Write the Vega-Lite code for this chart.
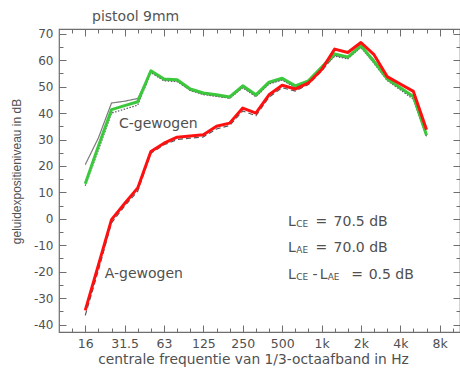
{
  "$schema": "https://vega.github.io/schema/vega-lite/v6.json",
  "width": 401,
  "height": 303,
  "autosize": {"type": "none"},
  "padding": {"left": 59, "top": 29, "right": 0, "bottom": 37},
  "background": "white",
  "title": {"text": "pistool 9mm", "anchor": "start", "dx": 82, "dy": 16, "offset": 9, "baseline": "alphabetic", "font": "DejaVu Sans", "fontSize": 14, "fontWeight": "normal", "color": "#555555"},
  "config": {
    "view": {"stroke": "#6e6e6e", "strokeWidth": 1.2},
    "axis": {"grid": false, "domain": false, "tickColor": "#6e6e6e", "tickWidth": 1, "labelColor": "#505050", "titleColor": "#505050", "labelFont": "DejaVu Sans", "titleFont": "DejaVu Sans", "titleFontWeight": "normal"}
  },
  "datasets": {
    "lijnen": [
      {"s": "C", "f": 12, "db": 13.3}, {"s": "C", "f": 13, "db": 27.5}, {"s": "C", "f": 14, "db": 41.3}, {"s": "C", "f": 15, "db": 42.8}, {"s": "C", "f": 16, "db": 44.3}, {"s": "C", "f": 17, "db": 56.0}, {"s": "C", "f": 18, "db": 52.9}, {"s": "C", "f": 19, "db": 52.6}, {"s": "C", "f": 20, "db": 49.1}, {"s": "C", "f": 21, "db": 47.6}, {"s": "C", "f": 22, "db": 46.9}, {"s": "C", "f": 23, "db": 46.1}, {"s": "C", "f": 24, "db": 50.3}, {"s": "C", "f": 25, "db": 46.9}, {"s": "C", "f": 26, "db": 51.7}, {"s": "C", "f": 27, "db": 53.2}, {"s": "C", "f": 28, "db": 50.3}, {"s": "C", "f": 29, "db": 52.2}, {"s": "C", "f": 30, "db": 57.3}, {"s": "C", "f": 31, "db": 62.4}, {"s": "C", "f": 32, "db": 61.2}, {"s": "C", "f": 33, "db": 65.5}, {"s": "C", "f": 34, "db": 59.5}, {"s": "C", "f": 35, "db": 53.0}, {"s": "C", "f": 36, "db": 49.6}, {"s": "C", "f": 37, "db": 46.3}, {"s": "C", "f": 38, "db": 31.6},
      {"s": "A", "f": 12, "db": -34.6}, {"s": "A", "f": 13, "db": -17.5}, {"s": "A", "f": 14, "db": -0.3}, {"s": "A", "f": 15, "db": 5.8}, {"s": "A", "f": 16, "db": 11.7}, {"s": "A", "f": 17, "db": 25.5}, {"s": "A", "f": 18, "db": 28.6}, {"s": "A", "f": 19, "db": 30.9}, {"s": "A", "f": 20, "db": 31.3}, {"s": "A", "f": 21, "db": 31.8}, {"s": "A", "f": 22, "db": 35.0}, {"s": "A", "f": 23, "db": 36.2}, {"s": "A", "f": 24, "db": 41.9}, {"s": "A", "f": 25, "db": 40.0}, {"s": "A", "f": 26, "db": 46.9}, {"s": "A", "f": 27, "db": 50.5}, {"s": "A", "f": 28, "db": 49.1}, {"s": "A", "f": 29, "db": 51.4}, {"s": "A", "f": 30, "db": 56.4}, {"s": "A", "f": 31, "db": 64.2}, {"s": "A", "f": 32, "db": 62.9}, {"s": "A", "f": 33, "db": 66.7}, {"s": "A", "f": 34, "db": 62.1}, {"s": "A", "f": 35, "db": 53.8}, {"s": "A", "f": 36, "db": 51.0}, {"s": "A", "f": 37, "db": 48.2}, {"s": "A", "f": 38, "db": 33.7},
      {"s": "Cg", "f": 12, "db": 20.5}, {"s": "Cg", "f": 13, "db": 30.6}, {"s": "Cg", "f": 14, "db": 43.8}, {"s": "Cg", "f": 15, "db": 44.5}, {"s": "Cg", "f": 16, "db": 45.5}, {"s": "Cg", "f": 17, "db": 55.5}, {"s": "Cg", "f": 18, "db": 52.5}, {"s": "Cg", "f": 19, "db": 52.2}, {"s": "Cg", "f": 20, "db": 48.6}, {"s": "Cg", "f": 21, "db": 47.2}, {"s": "Cg", "f": 22, "db": 46.5}, {"s": "Cg", "f": 23, "db": 45.7}, {"s": "Cg", "f": 24, "db": 49.8}, {"s": "Cg", "f": 25, "db": 46.4}, {"s": "Cg", "f": 26, "db": 51.2}, {"s": "Cg", "f": 27, "db": 52.7}, {"s": "Cg", "f": 28, "db": 49.8}, {"s": "Cg", "f": 29, "db": 51.8}, {"s": "Cg", "f": 30, "db": 56.8}, {"s": "Cg", "f": 31, "db": 61.8}, {"s": "Cg", "f": 32, "db": 60.8}, {"s": "Cg", "f": 33, "db": 65.0}, {"s": "Cg", "f": 34, "db": 59.2}, {"s": "Cg", "f": 35, "db": 52.6}, {"s": "Cg", "f": 36, "db": 49.2}, {"s": "Cg", "f": 37, "db": 45.8}, {"s": "Cg", "f": 38, "db": 31.2},
      {"s": "Cs", "f": 12, "db": 12.5}, {"s": "Cs", "f": 13, "db": 26.0}, {"s": "Cs", "f": 14, "db": 40.0}, {"s": "Cs", "f": 15, "db": 41.5}, {"s": "Cs", "f": 16, "db": 43.0}, {"s": "Cs", "f": 17, "db": 55.3}, {"s": "Cs", "f": 18, "db": 52.2}, {"s": "Cs", "f": 19, "db": 51.9}, {"s": "Cs", "f": 20, "db": 48.6}, {"s": "Cs", "f": 21, "db": 47.0}, {"s": "Cs", "f": 22, "db": 46.3}, {"s": "Cs", "f": 23, "db": 45.6}, {"s": "Cs", "f": 24, "db": 49.6}, {"s": "Cs", "f": 25, "db": 46.2}, {"s": "Cs", "f": 26, "db": 51.0}, {"s": "Cs", "f": 27, "db": 52.5}, {"s": "Cs", "f": 28, "db": 49.6}, {"s": "Cs", "f": 29, "db": 51.5}, {"s": "Cs", "f": 30, "db": 56.5}, {"s": "Cs", "f": 31, "db": 61.5}, {"s": "Cs", "f": 32, "db": 60.5}, {"s": "Cs", "f": 33, "db": 64.8}, {"s": "Cs", "f": 34, "db": 58.8}, {"s": "Cs", "f": 35, "db": 52.3}, {"s": "Cs", "f": 36, "db": 48.8}, {"s": "Cs", "f": 37, "db": 45.2}, {"s": "Cs", "f": 38, "db": 31.0},
      {"s": "As", "f": 12, "db": -36.5}, {"s": "As", "f": 13, "db": -19.5}, {"s": "As", "f": 14, "db": -1.5}, {"s": "As", "f": 15, "db": 4.8}, {"s": "As", "f": 16, "db": 10.5}, {"s": "As", "f": 17, "db": 24.8}, {"s": "As", "f": 18, "db": 28.0}, {"s": "As", "f": 19, "db": 30.0}, {"s": "As", "f": 20, "db": 30.5}, {"s": "As", "f": 21, "db": 31.0}, {"s": "As", "f": 22, "db": 34.0}, {"s": "As", "f": 23, "db": 35.3}, {"s": "As", "f": 24, "db": 40.8}, {"s": "As", "f": 25, "db": 39.0}, {"s": "As", "f": 26, "db": 46.0}, {"s": "As", "f": 27, "db": 49.6}, {"s": "As", "f": 28, "db": 48.3}, {"s": "As", "f": 29, "db": 50.8}, {"s": "As", "f": 30, "db": 55.8}, {"s": "As", "f": 31, "db": 62.0}, {"s": "As", "f": 32, "db": 61.0}, {"s": "As", "f": 33, "db": 65.3}, {"s": "As", "f": 34, "db": 60.0}, {"s": "As", "f": 35, "db": 52.8}, {"s": "As", "f": 36, "db": 49.2}, {"s": "As", "f": 37, "db": 46.0}, {"s": "As", "f": 38, "db": 32.0}
    ],
    "tekst": [
      {"f": 14.57, "db": 34.5, "t": "C-gewogen"},
      {"f": 13.48, "db": -22.4, "t": "A-gewogen"},
      {"f": 27.44, "db": -2.6, "t": "L"}, {"f": 29.55, "db": -2.6, "t": "="}, {"f": 30.92, "db": -2.6, "t": "70.5 dB"},
      {"f": 27.44, "db": -12.7, "t": "L"}, {"f": 29.55, "db": -12.7, "t": "="}, {"f": 30.92, "db": -12.7, "t": "70.0 dB"},
      {"f": 27.44, "db": -22.75, "t": "L"}, {"f": 29.32, "db": -22.75, "t": "-"}, {"f": 29.86, "db": -22.75, "t": "L"}, {"f": 32.27, "db": -22.75, "t": "="}, {"f": 33.59, "db": -22.75, "t": "0.5 dB"}
    ],
    "sub": [
      {"f": 28.08, "db": -2.6, "t": "CE"},
      {"f": 28.08, "db": -12.7, "t": "AE"},
      {"f": 28.08, "db": -22.75, "t": "CE"},
      {"f": 30.47, "db": -22.75, "t": "AE"}
    ]
  },
  "resolve": {"axis": {"x": "independent", "y": "independent"}},
  "layer": [
    {
      "data": {"name": "lijnen"},
      "transform": [{"filter": "datum.s != 'C' && datum.s != 'A'"}],
      "mark": {"type": "line", "strokeWidth": 1.2},
      "encoding": {
        "x": {"field": "f", "type": "quantitative", "scale": {"domain": [10, 40.55], "nice": false, "zero": false},
          "axis": {"orient": "bottom", "values": [12, 15, 18, 21, 24, 27, 30, 33, 36, 39], "ticks": false, "labelPadding": 5, "labelFontSize": 12.5, "labelFlush": false, "labelOverlap": false,
            "labelExpr": "datum.value % 3 == 0 ? ['16','31.5','63','125','250','500','1k','2k','4k','8k'][(datum.value - 12) / 3] : ''",
            "title": "centrale frequentie van 1/3-octaafband in Hz", "titleFontSize": 13.8, "titleX": 194, "titleY": 31, "titleBaseline": "alphabetic", "titleAlign": "center", "titleAnchor": null}},
        "y": {"field": "db", "type": "quantitative", "scale": {"domain": [-42.8, 71.8], "nice": false, "zero": false},
          "axis": {"orient": "left", "values": [-40, -30, -20, -10, 0, 10, 20, 30, 40, 50, 60, 70], "ticks": false, "labelPadding": 6, "labelFontSize": 12, "labelFlush": false, "labelOverlap": false,
            "labelExpr": "'' + datum.value",
            "title": "geluidexpositieniveau in dB", "titleFont": "Liberation Sans", "titleFontSize": 12, "titleX": -39, "titleY": 142, "titleAngle": -90, "titleBaseline": "alphabetic", "titleAlign": "center", "titleAnchor": null}},
        "detail": {"field": "s"},
        "color": {"field": "s", "type": "nominal", "scale": {"domain": ["Cg", "Cs", "As"], "range": ["#7a7a7a", "#555555", "#555555"]}, "legend": null},
        "strokeDash": {"field": "s", "type": "nominal", "scale": {"domain": ["Cg", "Cs", "As"], "range": [[1, 0], [1.5, 1.5], [5, 3]]}, "legend": null}
      }
    },
    {
      "data": {"name": "lijnen"},
      "transform": [{"filter": "datum.s == 'C'"}],
      "mark": {"type": "line", "color": "#3cc83c", "strokeWidth": 3, "strokeJoin": "round"},
      "encoding": {
        "x": {"field": "f", "type": "quantitative", "scale": {"domain": [10, 40.55], "nice": false, "zero": false}, "axis": null},
        "y": {"field": "db", "type": "quantitative", "scale": {"domain": [-42.8, 71.8], "nice": false, "zero": false}, "axis": null}
      }
    },
    {
      "data": {"name": "lijnen"},
      "transform": [{"filter": "datum.s == 'A'"}],
      "mark": {"type": "line", "color": "#ff1010", "strokeWidth": 3, "strokeJoin": "round"},
      "encoding": {
        "x": {"field": "f", "type": "quantitative", "scale": {"domain": [10, 40.55], "nice": false, "zero": false}, "axis": null},
        "y": {"field": "db", "type": "quantitative", "scale": {"domain": [-42.8, 71.8], "nice": false, "zero": false}, "axis": null}
      }
    },
    {
      "data": {"name": "tekst"},
      "mark": {"type": "text", "align": "left", "baseline": "alphabetic", "font": "DejaVu Sans", "fontSize": 14, "color": "#505050"},
      "encoding": {
        "x": {"field": "f", "type": "quantitative", "scale": {"domain": [10, 40.55], "nice": false, "zero": false}, "axis": null},
        "y": {"field": "db", "type": "quantitative", "scale": {"domain": [-42.8, 71.8], "nice": false, "zero": false}, "axis": null},
        "text": {"field": "t"}
      }
    },
    {
      "data": {"name": "sub"},
      "mark": {"type": "text", "align": "left", "baseline": "alphabetic", "font": "DejaVu Sans", "fontSize": 9, "dy": 1, "color": "#505050"},
      "encoding": {
        "x": {"field": "f", "type": "quantitative", "scale": {"domain": [10, 40.55], "nice": false, "zero": false}, "axis": null},
        "y": {"field": "db", "type": "quantitative", "scale": {"domain": [-42.8, 71.8], "nice": false, "zero": false}, "axis": null},
        "text": {"field": "t"}
      }
    },
    {
      "data": {"name": "lijnen"},
      "mark": {"type": "point", "opacity": 0},
      "encoding": {
        "x": {"field": "f", "type": "quantitative", "scale": {"domain": [10, 40.55], "nice": false, "zero": false},
          "axis": {"orient": "bottom", "values": [12, 15, 18, 21, 24, 27, 30, 33, 36, 39], "labels": false, "offset": -7, "tickSize": 7, "title": null}},
        "y": {"field": "db", "type": "quantitative", "scale": {"domain": [-42.8, 71.8], "nice": false, "zero": false},
          "axis": {"orient": "left", "values": [-40, -30, -20, -10, 0, 10, 20, 30, 40, 50, 60, 70], "labels": false, "offset": -7, "tickSize": 7, "title": null}}
      }
    },
    {
      "data": {"name": "lijnen"},
      "mark": {"type": "point", "opacity": 0},
      "encoding": {
        "x": {"field": "f", "type": "quantitative", "scale": {"domain": [10, 40.55], "nice": false, "zero": false},
          "axis": {"orient": "bottom", "values": [11, 12, 13, 14, 15, 16, 17, 18, 19, 20, 21, 22, 23, 24, 25, 26, 27, 28, 29, 30, 31, 32, 33, 34, 35, 36, 37, 38, 39, 40], "labels": false, "offset": -4, "tickSize": 4, "title": null}},
        "y": {"field": "db", "type": "quantitative", "scale": {"domain": [-42.8, 71.8], "nice": false, "zero": false},
          "axis": {"orient": "left", "values": [-40, -35, -30, -25, -20, -15, -10, -5, 0, 5, 10, 15, 20, 25, 30, 35, 40, 45, 50, 55, 60, 65, 70], "labels": false, "offset": -4, "tickSize": 4, "title": null}}
      }
    },
    {
      "data": {"name": "lijnen"},
      "mark": {"type": "point", "opacity": 0},
      "encoding": {
        "x": {"field": "f", "type": "quantitative", "scale": {"domain": [10, 40.55], "nice": false, "zero": false},
          "axis": {"orient": "top", "values": [12, 15, 18, 21, 24, 27, 30, 33, 36, 39], "labels": false, "offset": -7, "tickSize": 7, "title": null}},
        "y": {"field": "db", "type": "quantitative", "scale": {"domain": [-42.8, 71.8], "nice": false, "zero": false},
          "axis": {"orient": "right", "values": [-40, -30, -20, -10, 0, 10, 20, 30, 40, 50, 60, 70], "labels": false, "offset": -7, "tickSize": 7, "title": null}}
      }
    },
    {
      "data": {"name": "lijnen"},
      "mark": {"type": "point", "opacity": 0},
      "encoding": {
        "x": {"field": "f", "type": "quantitative", "scale": {"domain": [10, 40.55], "nice": false, "zero": false},
          "axis": {"orient": "top", "values": [11, 12, 13, 14, 15, 16, 17, 18, 19, 20, 21, 22, 23, 24, 25, 26, 27, 28, 29, 30, 31, 32, 33, 34, 35, 36, 37, 38, 39, 40], "labels": false, "offset": -4, "tickSize": 4, "title": null}},
        "y": {"field": "db", "type": "quantitative", "scale": {"domain": [-42.8, 71.8], "nice": false, "zero": false},
          "axis": {"orient": "right", "values": [-40, -35, -30, -25, -20, -15, -10, -5, 0, 5, 10, 15, 20, 25, 30, 35, 40, 45, 50, 55, 60, 65, 70], "labels": false, "offset": -4, "tickSize": 4, "title": null}}
      }
    }
  ]
}
